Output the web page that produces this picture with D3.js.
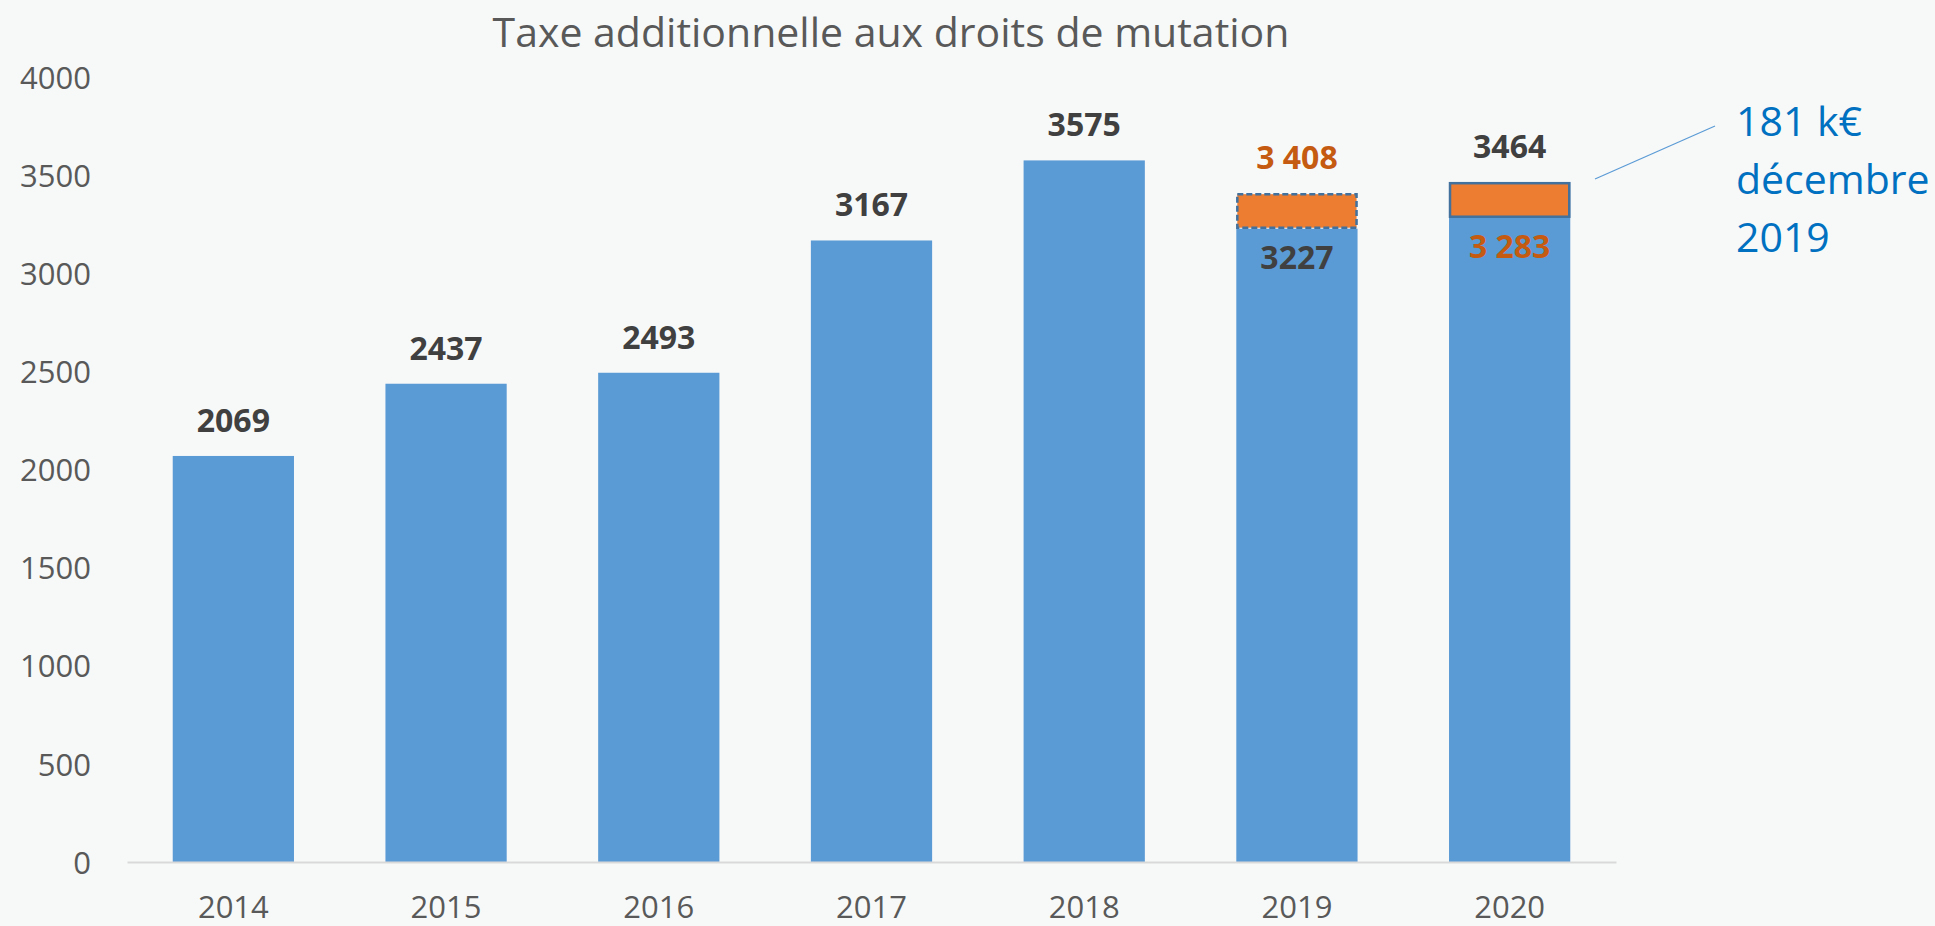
<!DOCTYPE html>
<html>
<head>
<meta charset="utf-8">
<script src="https://cdn.jsdelivr.net/npm/d3@7"></script>
<style>
  html, body { margin: 0; padding: 0; background: #f7f9f9; }
  svg { display: block; font-family: "Open Sans", "Noto Sans", sans-serif; }
  .axe text { fill: #595959; font-size: 31px; font-family: "Open Sans", "Noto Sans", sans-serif; }
  .valeur { font-weight: 700; font-size: 32px; }
</style>
</head>
<body>
<div id="graf"></div>
<script>
// donnees
const annees = ['2014', '2015', '2016', '2017', '2018', '2019', '2020']
const montants = [2069, 2437, 2493, 3167, 3575, 3227, 3464]
const etiquettesHaut = ['2069', '2437', '2493', '3167', '3575', '3 408', '3464']
const ticksY = [0, 500, 1000, 1500, 2000, 2500, 3000, 3500, 4000]

// segment "181 k€" (decembre 2019)
const ecartAnnees = ['2019', '2020']
const ecartBas = [3227, 3283]
const ecartHaut = [3408, 3464]
const ecartEtiquettes = ['3227', '3 283']

const titre = 'Taxe additionnelle aux droits de mutation'
const note = ['181 k€', 'décembre', '2019']

const ancho = 1935
const alto = 926
const bleu = '#5b9bd5'
const orange = '#ed7d31'
const orangeTexte = '#c55a11'
const gris = '#404040'
const bord = '#41719c'

const svg = d3.select('#graf')
  .append('svg')
  .attr('width', ancho)
  .attr('height', alto)

const x = d3.scaleBand()
  .domain(annees)
  .range([127, 1616])
  .paddingInner(0.43)
  .paddingOuter(0.215)

const y = d3.scaleLinear()
  .domain([0, 4000])
  .range([862, 77])

// titre
svg.append('text')
  .attr('x', 891)
  .attr('y', 47)
  .attr('text-anchor', 'middle')
  .attr('fill', '#595959')
  .style('font-size', '41px')
  .text(titre)

// axe Y (etiquettes seulement)
const yAxis = d3.axisLeft(y).tickValues(ticksY).tickFormat(d3.format('d')).tickSize(0).tickPadding(0)
svg.append('g')
  .attr('class', 'axe')
  .attr('transform', 'translate(91, 0)')
  .call(yAxis)
  .call(g => g.select('.domain').remove())
  .selectAll('text')
  .attr('dy', '0.36em')

// barres bleues
svg.selectAll('rect.barre')
  .data(montants)
  .enter()
  .append('rect')
  .attr('class', 'barre')
  .attr('x', (d, i) => x(annees[i]))
  .attr('y', d => y(d))
  .attr('width', x.bandwidth())
  .attr('height', d => y(0) - y(d))
  .attr('fill', bleu)

// segments oranges
svg.selectAll('rect.ecart')
  .data(ecartAnnees)
  .enter()
  .append('rect')
  .attr('class', 'ecart')
  .attr('x', d => x(d) + 1)
  .attr('y', (d, i) => y(ecartHaut[i]) + 1)
  .attr('width', x.bandwidth() - 2)
  .attr('height', (d, i) => y(ecartBas[i]) - y(ecartHaut[i]) - 2)
  .attr('fill', orange)
  .attr('stroke', bord)
  .attr('stroke-width', 2.5)
  .attr('stroke-dasharray', (d, i) => i === 0 ? '6,3' : null)

// axe X
const xAxis = d3.axisBottom(x).tickSize(0).tickPadding(0)
svg.append('g')
  .attr('class', 'axe')
  .attr('transform', `translate(0, ${y(0)})`)
  .call(xAxis)
  .call(g => g.select('.domain').attr('stroke', '#d9d9d9').attr('stroke-width', 2))
  .selectAll('text')
  .attr('dy', null)
  .attr('y', 56)

// etiquettes au-dessus
svg.selectAll('text.haut')
  .data(etiquettesHaut)
  .enter()
  .append('text')
  .attr('class', 'valeur haut')
  .attr('x', (d, i) => x(annees[i]) + x.bandwidth() / 2)
  .attr('y', (d, i) => {
    const j = ecartAnnees.indexOf(annees[i])
    const sommet = j >= 0 ? Math.max(montants[i], ecartHaut[j]) : montants[i]
    return y(sommet) - 24
  })
  .attr('text-anchor', 'middle')
  .attr('fill', (d, i) => annees[i] === '2019' ? orangeTexte : gris)
  .text(d => d)

// etiquettes dans les barres
svg.selectAll('text.dedans')
  .data(ecartEtiquettes)
  .enter()
  .append('text')
  .attr('class', 'valeur dedans')
  .attr('x', (d, i) => x(ecartAnnees[i]) + x.bandwidth() / 2)
  .attr('y', (d, i) => y(ecartBas[i]) + 40)
  .attr('text-anchor', 'middle')
  .attr('fill', (d, i) => i === 0 ? gris : orangeTexte)
  .text(d => d)

// annotation
svg.append('line')
  .attr('x1', 1595)
  .attr('y1', 179)
  .attr('x2', 1715)
  .attr('y2', 126)
  .attr('stroke', bleu)
  .attr('stroke-width', 1.2)

svg.append('g')
  .selectAll('text')
  .data(note)
  .enter()
  .append('text')
  .attr('x', 1736)
  .attr('y', (d, i) => 136 + i * 58)
  .attr('fill', '#0070c0')
  .style('font-size', '41px')
  .text(d => d)
</script>
</body>
</html>
